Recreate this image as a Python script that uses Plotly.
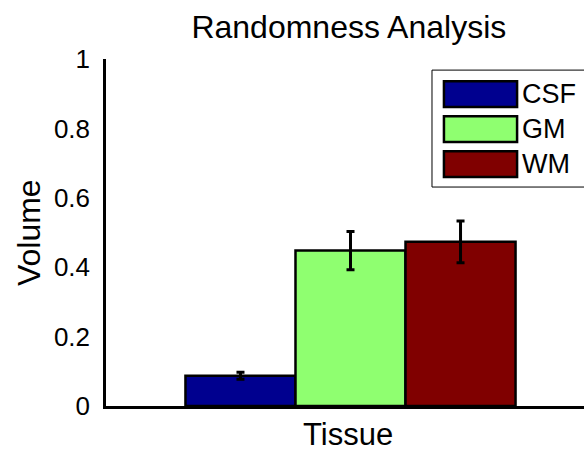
import plotly.graph_objects as go

# Tissue volume fractions with standard-error bars
series = ["CSF", "GM", "WM"]
values = [0.087, 0.448, 0.473]
errors = [0.010, 0.055, 0.060]
colors = ["#00008F", "#8FFF70", "#800000"]
y_ticks = [0, 0.2, 0.4, 0.6, 0.8, 1]
y_tick_labels = ["0", "0.2", "0.4", "0.6", "0.8", "1"]

FONT = "Liberation Sans, Arial, Helvetica, sans-serif"

fig = go.Figure()
for name, v, e, c in zip(series, values, errors, colors):
    fig.add_trace(go.Bar(
        x=[" "], y=[v], name=name,
        marker=dict(color=c, line=dict(color="black", width=2.5)),
        error_y=dict(type="data", array=[e], color="black", thickness=3, width=4),
        showlegend=False,
    ))

# Boxed legend with large swatches
fig.add_shape(type="rect", xref="paper", yref="paper",
              x0=0.682, x1=1.05, y0=0.631, y1=0.968,
              line=dict(color="black", width=1), fillcolor="white", layer="above")
centers = [0.899, 0.798, 0.697]
for name, c, yc in zip(series, colors, centers):
    fig.add_shape(type="rect", xref="paper", yref="paper",
                  x0=0.707, x1=0.860, y0=yc - 0.037, y1=yc + 0.037,
                  line=dict(color="black", width=2.5), fillcolor=c, layer="above")
    fig.add_annotation(text=name, xref="paper", yref="paper", x=0.866, y=yc,
                       xanchor="left", yanchor="middle", showarrow=False,
                       font=dict(family=FONT, size=27, color="black"))

fig.add_annotation(text="Volume", xref="paper", yref="paper", x=-0.162, y=0.5,
                   textangle=-90, xanchor="center", yanchor="middle", showarrow=False,
                   font=dict(family=FONT, size=32, color="black"))
fig.add_annotation(text="Tissue", xref="paper", yref="paper", x=0.507, y=-0.083,
                   xanchor="center", yanchor="middle", showarrow=False,
                   font=dict(family=FONT, size=31, color="black"))

fig.update_layout(
    width=584, height=453,
    margin=dict(l=106, r=0, t=59, b=47),
    paper_bgcolor="white", plot_bgcolor="white",
    barmode="group", bargap=0.325, bargroupgap=0,
    title=dict(text="Randomness Analysis", x=0.508, xref="paper", xanchor="center",
               y=0.940, yref="container", yanchor="middle",
               font=dict(family=FONT, size=32, color="black")),
    xaxis=dict(range=[-0.5, 0.4775], showline=True, linecolor="black", linewidth=2.5,
               showgrid=False, zeroline=False, showticklabels=False, ticks=""),
    yaxis=dict(range=[0, 1], tickvals=y_ticks, ticktext=y_tick_labels,
               showline=True, linecolor="black", linewidth=2.5, showgrid=False,
               zeroline=False, ticks="", ticklabelstandoff=8,
               tickfont=dict(family=FONT, size=26, color="black")),
    showlegend=False,
)

fig.write_html("out.html")
